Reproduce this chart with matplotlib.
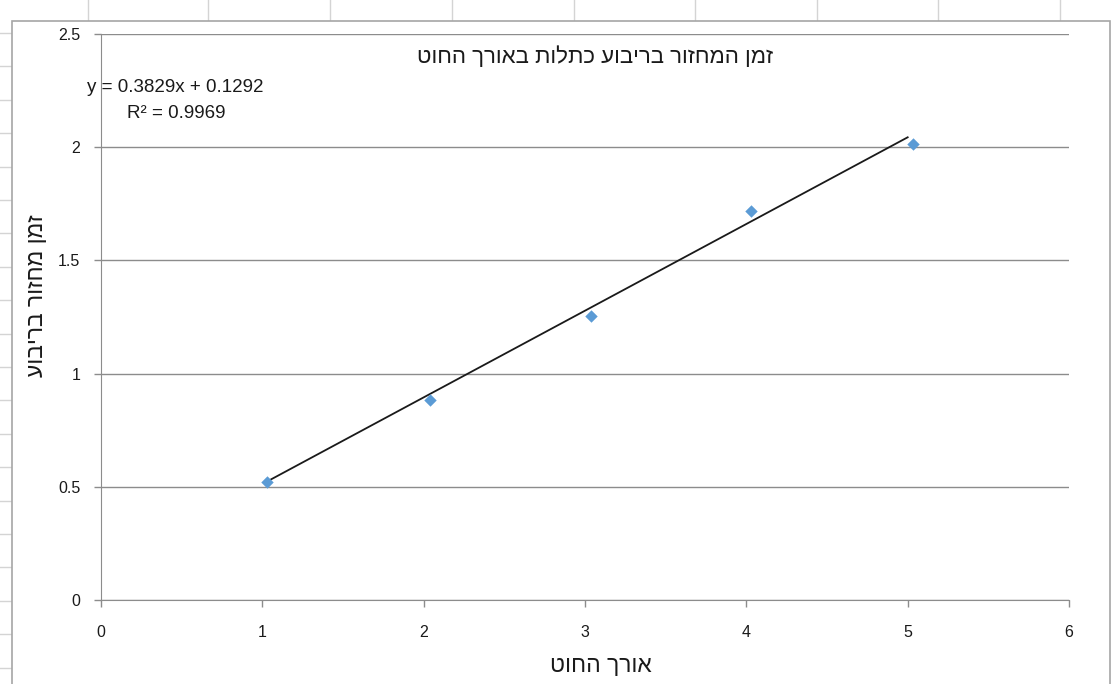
"""Excel-style scatter: squared pendulum period vs string length, with linear trendline."""

import matplotlib

matplotlib.use("Agg")
import matplotlib.pyplot as plt  # noqa: E402
from matplotlib.lines import Line2D  # noqa: E402
from matplotlib.patches import Rectangle  # noqa: E402
import numpy as np  # noqa: E402

# data
length = [1.03, 2.04, 3.04, 4.03, 5.03]
period_sq = [0.521, 0.883, 1.254, 1.718, 2.014]
slope, intercept, r2 = 0.3829, 0.1292, 0.9969

x_ticks = [0, 1, 2, 3, 4, 5, 6]
y_ticks = [0, 0.5, 1, 1.5, 2, 2.5]

title = "זמן המחזור בריבוע כתלות באורך החוט"
xlabel = "אורך החוט"
ylabel = "זמן מחזור בריבוע"


def vis(s):
    # matplotlib has no bidi layout: feed Hebrew in visual order
    return s[::-1]


plt.rcParams["font.family"] = ["Liberation Sans", "DejaVu Sans"]

W, H = 1112, 684
fig = plt.figure(figsize=(W / 100, H / 100), dpi=100)

# spreadsheet grid peeking out around the chart object
grid_c = "#d4d4d4"
for px in [88, 208, 330, 452, 574, 695, 817, 938, 1060]:
    fig.add_artist(Line2D([px / W, px / W], [1, 1 - 21 / H], color=grid_c,
                          lw=1, zorder=-20))
for py in np.arange(33, H, 33.4):
    fig.add_artist(Line2D([0, 12 / W], [1 - py / H, 1 - py / H], color=grid_c,
                          lw=1, zorder=-20))
fig.add_artist(Rectangle((12 / W, -0.01), (1110 - 12) / W, (H - 21) / H + 0.01,
                         transform=fig.transFigure, facecolor="white",
                         edgecolor="#a6a6a6", lw=1.2, zorder=-10))

ax = fig.add_axes([101 / W, 1 - 600 / H, (1069 - 101) / W, (600 - 34) / H])
ax.set_facecolor("none")

xs = np.array([min(length), 5.0])
ax.plot(xs, slope * xs + intercept, color="#1a1a1a", lw=1.3, zorder=3)
ax.scatter(length, period_sq, marker="D", s=40, color="#5b9bd5", zorder=4,
           linewidths=0)

ax.set_xlim(0, 6)
ax.set_ylim(0, 2.5)
ax.set_xticks(x_ticks)
ax.set_yticks(y_ticks)
ax.set_xticklabels([str(v) for v in x_ticks])
ax.set_yticklabels([f"{v:g}" for v in y_ticks])
ax.yaxis.grid(True, color="#8c8c8c", lw=1)
ax.set_axisbelow(True)
for side in ("top", "right"):
    ax.spines[side].set_visible(False)
for side in ("left", "bottom"):
    ax.spines[side].set_color("#8c8c8c")
ax.tick_params(axis="both", colors="#8c8c8c", labelcolor="#1a1a1a",
               labelsize=11.5, length=5, width=1)
ax.tick_params(axis="x", pad=13)
ax.tick_params(axis="y", pad=10)

ax.set_xlabel(vis(xlabel), fontsize=16.5, color="#1a1a1a", va="center")
ax.set_ylabel(vis(ylabel), fontsize=16.5, color="#1a1a1a", va="center")
ax.xaxis.set_label_coords(0.516, -0.115)
ax.yaxis.set_label_coords(-0.067, 0.537)

fig.text(595 / W, 1 - 57 / H, vis(title), ha="center", va="center",
         fontsize=16, color="#1a1a1a")
fig.text(175 / W, 1 - 88 / H, f"y = {slope}x + {intercept}", ha="center",
         va="center", fontsize=13.5, color="#1a1a1a")
fig.text(176 / W, 1 - 114 / H, f"R² = {r2}", ha="center", va="center",
         fontsize=13.5, color="#1a1a1a")

fig.savefig("out.png", dpi=100)
